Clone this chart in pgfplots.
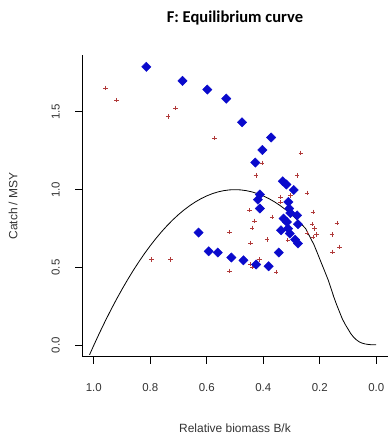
\documentclass[border=0pt]{standalone}
\usepackage{pgfplots}
\pgfplotsset{compat=1.18}
\usepackage{pgfplotstable}
\usetikzlibrary{calc}
\usepackage{fontspec}
\setmainfont{Liberation Sans}
\newfontfamily\titlefont{Carlito}

\definecolor{ptblue}{HTML}{0A0ACC}
\definecolor{ptred}{HTML}{B03A3A}

% Relative biomass and catch/MSY, blue series
\pgfplotstableread{
B C
0.814 1.789
0.686 1.699
0.598 1.643
0.531 1.585
0.475 1.433
0.372 1.335
0.403 1.255
0.428 1.174
0.331 1.054
0.318 1.033
0.292 0.998
0.412 0.969
0.419 0.936
0.412 0.879
0.311 0.921
0.308 0.879
0.304 0.850
0.280 0.835
0.328 0.814
0.316 0.792
0.277 0.778
0.312 0.750
0.337 0.739
0.306 0.718
0.287 0.679
0.277 0.654
0.629 0.724
0.593 0.604
0.561 0.596
0.513 0.564
0.470 0.546
0.425 0.519
0.381 0.508
0.345 0.596
}\bluepts

% Red series
\pgfplotstableread{
B C
0.959 1.654
0.919 1.575
0.710 1.525
0.737 1.470
0.573 1.332
0.267 1.236
0.404 1.172
0.426 1.091
0.280 1.091
0.245 0.979
0.339 0.953
0.339 0.921
0.304 0.962
0.795 0.551
0.728 0.551
0.449 0.868
0.369 0.825
0.431 0.799
0.439 0.754
0.519 0.728
0.386 0.681
0.445 0.657
0.313 0.675
0.224 0.857
0.227 0.778
0.218 0.750
0.212 0.713
0.224 0.696
0.245 0.720
0.139 0.786
0.157 0.713
0.130 0.632
0.155 0.600
0.519 0.478
0.445 0.521
0.439 0.503
0.413 0.551
0.354 0.471
}\redpts

% Equilibrium curve
\pgfplotstableread{
B C
1.015 -0.061
1.00 0.0
0.98 0.0784
0.96 0.1536
0.94 0.2256
0.92 0.2944
0.90 0.36
0.88 0.4224
0.86 0.4816
0.84 0.5376
0.82 0.5904
0.80 0.64
0.78 0.6864
0.76 0.7296
0.74 0.7696
0.72 0.8064
0.70 0.84
0.68 0.8704
0.66 0.8976
0.64 0.9216
0.62 0.9424
0.60 0.96
0.58 0.9744
0.56 0.9856
0.54 0.9936
0.52 0.9984
0.50 1.0
0.48 0.9984
0.46 0.9936
0.44 0.9856
0.42 0.9744
0.40 0.96
0.38 0.9424
0.36 0.9216
0.34 0.8976
0.32 0.8704
0.30 0.84
0.28 0.8064
0.26 0.7696
0.25 0.75
0.24 0.715
0.23 0.68
0.22 0.645
0.21 0.60
0.20 0.555
0.19 0.51
0.18 0.465
0.17 0.42
0.16 0.365
0.15 0.31
0.14 0.26
0.13 0.215
0.12 0.17
0.11 0.135
0.10 0.105
0.09 0.075
0.08 0.052
0.07 0.035
0.06 0.022
0.05 0.014
0.04 0.009
0.03 0.006
0.02 0.004
0.01 0.003
0.00 0.003
}\curve

\begin{document}
\begin{tikzpicture}
\begin{axis}[
  name=ax,
  at={(0,0)}, anchor=south west,
  scale only axis,
  width=305bp, height=301bp,
  x dir=reverse,
  xmin=-0.04, xmax=1.04,
  ymin=-0.072, ymax=1.862,
  axis lines=none,
  xtick={0,0.2,...,1.0},
  ytick={0,0.5,1.0,1.5},
  major tick length=0pt,
  clip=true,
]
\addplot[black, line width=0.8pt] table[x=B, y=C] {\curve};
\addplot[only marks, mark=+, mark size=2.2bp, ptred, mark options={line width=0.7pt}] table[x=B, y=C] {\redpts};
\addplot[only marks, mark=square*, mark size=3.3bp, ptblue, mark options={rotate=45, draw=ptblue, fill=ptblue}] table[x=B, y=C] {\bluepts};
\end{axis}
% L-shaped frame, outward ticks and their labels
\draw[black, line width=1.1pt] (ax.north west) -- (ax.south west) -- (ax.south east);
\foreach \k/\lab in {0/0.0,1/0.2,2/0.4,3/0.6,4/0.8,5/1.0}{
  \coordinate (t) at ($(ax.south east)!{(0.04+0.2*\k)/1.08}!(ax.south west)$);
  \draw[black, line width=1.1pt] (t) -- ++(0,-7bp);
  \node[font=\fontsize{11.5}{13}\selectfont, text=black!80, anchor=base, inner sep=0pt] at ([yshift=-35bp]t) {\lab};
}
\foreach \k/\lab in {0/0.0,1/0.5,2/1.0,3/1.5}{
  \coordinate (t) at ($(ax.south west)!{(0.072+0.5*\k)/1.934}!(ax.north west)$);
  \draw[black, line width=1.1pt] (t) -- ++(-7bp,0);
  \node[font=\fontsize{11.5}{13}\selectfont, text=black!80, rotate=90, anchor=base, inner sep=0pt] at ([xshift=-23bp]t) {\lab};
}
\node[font=\titlefont\bfseries\fontsize{16.6}{20}\selectfont, anchor=base] at ([yshift=33bp]ax.north) {F: Equilibrium curve};
\node[font=\fontsize{12}{14}\selectfont, text=black!80, anchor=base] at ([yshift=-76bp]ax.south) {Relative biomass B/k};
\node[font=\fontsize{12}{14}\selectfont, text=black!80, rotate=90, anchor=base] at ([xshift=-65bp]ax.west) {Catch / MSY};
\pgfresetboundingbox
\path[use as bounding box] (-82.5bp,-83.5bp) rectangle (307.5bp,356.5bp);
\end{tikzpicture}
\end{document}
